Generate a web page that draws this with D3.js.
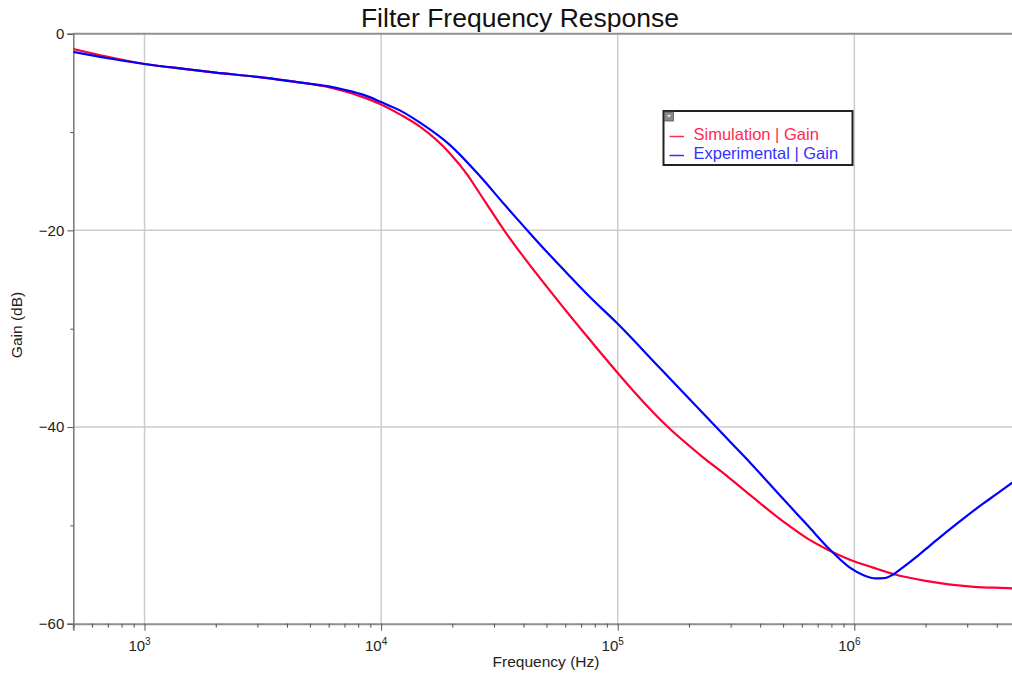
<!DOCTYPE html>
<html>
<head>
<meta charset="utf-8">
<script src="https://cdn.jsdelivr.net/npm/d3@7"></script>
<style>
  body { margin: 0; background: #fff; }
  svg { display: block; font-family: "Liberation Sans", Arial, sans-serif; }
</style>
</head>
<body>
<svg id="chart" width="1012" height="674"></svg>
<script>
"use strict";

// Gegevens
var simFreq = [500, 700, 1000, 1500, 2000, 3000, 4500, 6000, 7000, 8500, 10000, 12000, 14600, 19500, 23000,
    26200, 30000, 33000, 40000, 50000, 61000, 70000, 85000, 100000, 125000, 158000, 222000, 290000, 362000,
    500000, 640000, 776000, 958000, 1200000, 1460000, 2000000, 2500000, 3200000, 4620000, 5000000];
var simGain = [-1.55, -2.35, -3.08, -3.6, -3.95, -4.4, -4.95, -5.45, -5.85, -6.5, -7.2, -8.2, -9.45, -12.15, -14.25,
    -16.3, -18.45, -19.95, -22.7, -25.7, -28.3, -30.05, -32.5, -34.5, -37.15, -39.7, -42.8, -45.0, -46.9,
    -49.6, -51.4, -52.5, -53.5, -54.3, -54.95, -55.65, -56.0, -56.25, -56.4, -56.45];

var expFreq = [500, 700, 1000, 1500, 2000, 3000, 4500, 6000, 7000, 8500, 10000, 12000, 14600, 19500, 26200,
    33000, 41500, 50000, 61000, 75000, 100000, 150000, 222000, 300000, 362000, 500000, 640000, 776000, 958000,
    1100000, 1230000, 1350000, 1460000, 1600000, 1830000, 2100000, 2500000, 3000000, 3500000, 4000000, 4620000, 5000000];
var expGain = [-1.85, -2.5, -3.08, -3.6, -3.95, -4.4, -4.95, -5.35, -5.7, -6.25, -6.95, -7.8, -9.05, -11.3, -14.5,
    -17.3, -20.0, -22.15, -24.35, -26.6, -29.5, -33.95, -38.25, -41.55, -43.6, -47.3, -50.1, -52.3, -54.3,
    -55.1, -55.4, -55.35, -55.0, -54.3, -53.2, -52.0, -50.5, -49.0, -47.8, -46.8, -45.7, -45.1];

var seriesNames = ["Simulation | Gain", "Experimental | Gain"];
var seriesColors = ["#ff0033", "#0000ff"];
var legendColors = ["#ff2a50", "#3333ff"];

var xMajor = [1e3, 1e4, 1e5, 1e6];
var xExponents = ["3", "4", "5", "6"];
var yMajor = [0, -20, -40, -60];
var yMinor = [-10, -30, -50];

(function () {
    var svg = d3.select("#chart");

    var pLeft = 73.3, pRight = 1019.7, pTop = 33.7, pBottom = 623.7;

    var x = d3.scaleLog().domain([500, 5e6]).range([pLeft, pRight]);
    var y = d3.scaleLinear().domain([0, -60]).range([pTop, pBottom]);

    // kleine x-streepjes
    var xMinor = [];
    [100, 1000, 10000, 100000, 1000000].forEach(function (d) {
        for (var k = 2; k <= 9; k++) {
            var v = d * k;
            if (v >= 500 && v <= 5e6) xMinor.push(v);
        }
    });

    // rasterlijnen
    svg.append("g").selectAll("line").data(xMajor).enter().append("line")
        .attr("x1", function (d) { return x(d); }).attr("x2", function (d) { return x(d); })
        .attr("y1", pTop).attr("y2", pBottom)
        .attr("stroke", "#cccccc").attr("stroke-width", 1.5);
    svg.append("g").selectAll("line").data([-20, -40]).enter().append("line")
        .attr("x1", pLeft).attr("x2", 1012)
        .attr("y1", function (d) { return y(d); }).attr("y2", function (d) { return y(d); })
        .attr("stroke", "#cccccc").attr("stroke-width", 1.5);

    // bovenrand
    svg.append("line").attr("x1", pLeft).attr("x2", 1012).attr("y1", pTop).attr("y2", pTop)
        .attr("stroke", "#8f8f8f").attr("stroke-width", 2);

    // y-as
    var yAxis = svg.append("g").attr("transform", "translate(" + pLeft + ",0)")
        .call(d3.axisLeft(y).tickValues(yMajor).tickSize(6).tickPadding(3).tickFormat(d3.format("d")));
    yAxis.select(".domain").attr("stroke", "#777").attr("stroke-width", 1.5);
    yAxis.selectAll(".tick line").attr("stroke", "#555");
    yAxis.selectAll("text").attr("font-size", 15).attr("fill", "#222")
        .style("font-family", "'Liberation Sans', Arial, sans-serif");
    var yAxisMinor = svg.append("g").attr("transform", "translate(" + pLeft + ",0)")
        .call(d3.axisLeft(y).tickValues(yMinor).tickSize(3).tickFormat(""));
    yAxisMinor.select(".domain").remove();
    yAxisMinor.selectAll(".tick line").attr("stroke", "#555");

    // x-as
    var xAxis = svg.append("g").attr("transform", "translate(0," + pBottom + ")")
        .call(d3.axisBottom(x).tickValues(xMajor).tickSize(7).tickFormat(""));
    xAxis.select(".domain").attr("stroke", "#8f8f8f").attr("stroke-width", 2);
    xAxis.selectAll(".tick line").attr("stroke", "#555");
    var xAxisMinor = svg.append("g").attr("transform", "translate(0," + pBottom + ")")
        .call(d3.axisBottom(x).tickValues(xMinor).tickSize(4).tickFormat(""));
    xAxisMinor.select(".domain").remove();
    xAxisMinor.selectAll(".tick line").attr("stroke", "#555");

    var xLabels = svg.append("g").selectAll("text").data(xMajor).enter().append("text")
        .attr("x", function (d) { return x(d) - 5; })
        .attr("y", 651)
        .attr("text-anchor", "middle")
        .attr("font-size", 15).attr("fill", "#222");
    xLabels.append("tspan").text("10");
    xLabels.append("tspan").attr("dy", -6).attr("font-size", 10)
        .text(function (d, i) { return xExponents[i]; });

    // aslabels en titel
    svg.append("text").attr("x", 546).attr("y", 667).attr("text-anchor", "middle")
        .attr("font-size", 15.5).attr("fill", "#222").text("Frequency (Hz)");
    svg.append("text").attr("transform", "translate(22,325) rotate(-90)").attr("text-anchor", "middle")
        .attr("font-size", 15.5).attr("fill", "#222").text("Gain (dB)");
    svg.append("text").attr("x", 520).attr("y", 27).attr("text-anchor", "middle")
        .attr("font-size", 26.5).attr("fill", "#111").text("Filter Frequency Response");

    // lijnen
    svg.append("clipPath").attr("id", "plotclip").append("rect")
        .attr("x", pLeft).attr("y", pTop).attr("width", pRight - pLeft).attr("height", pBottom - pTop);

    var line = d3.line()
        .x(function (d) { return x(d[0]); })
        .y(function (d) { return y(d[1]); })
        .curve(d3.curveMonotoneX);

    var series = [d3.zip(simFreq, simGain), d3.zip(expFreq, expGain)];
    svg.append("g").attr("clip-path", "url(#plotclip)")
        .selectAll("path").data(series).enter().append("path")
        .attr("d", line)
        .attr("fill", "none")
        .attr("stroke", function (d, i) { return seriesColors[i]; })
        .attr("stroke-width", 2.2)
        .attr("stroke-linejoin", "round");

    // legenda
    var lg = svg.append("g").attr("transform", "translate(663.5,111)");
    lg.append("rect").attr("width", 189).attr("height", 54)
        .attr("fill", "#fff").attr("stroke", "#222").attr("stroke-width", 2);
    lg.append("rect").attr("x", 1).attr("y", 1).attr("width", 9).attr("height", 9)
        .attr("fill", "#8a8a8a").attr("stroke", "#555").attr("stroke-width", 0.8);
    lg.append("path").attr("d", "M3.5,4 L7.5,4 L5.5,6.5 Z").attr("fill", "#eee");
    var rows = lg.selectAll("g.row").data(seriesNames).enter().append("g")
        .attr("transform", function (d, i) { return "translate(0," + (i * 19) + ")"; });
    rows.append("line").attr("x1", 6).attr("x2", 20.5).attr("y1", 25.5).attr("y2", 25.5)
        .attr("stroke", function (d, i) { return legendColors[i]; }).attr("stroke-width", 1.5);
    rows.append("text").attr("x", 30).attr("y", 28.5)
        .attr("font-size", 16.5)
        .attr("fill", function (d, i) { return legendColors[i]; })
        .text(function (d) { return d; });
})();
</script>
</body>
</html>
